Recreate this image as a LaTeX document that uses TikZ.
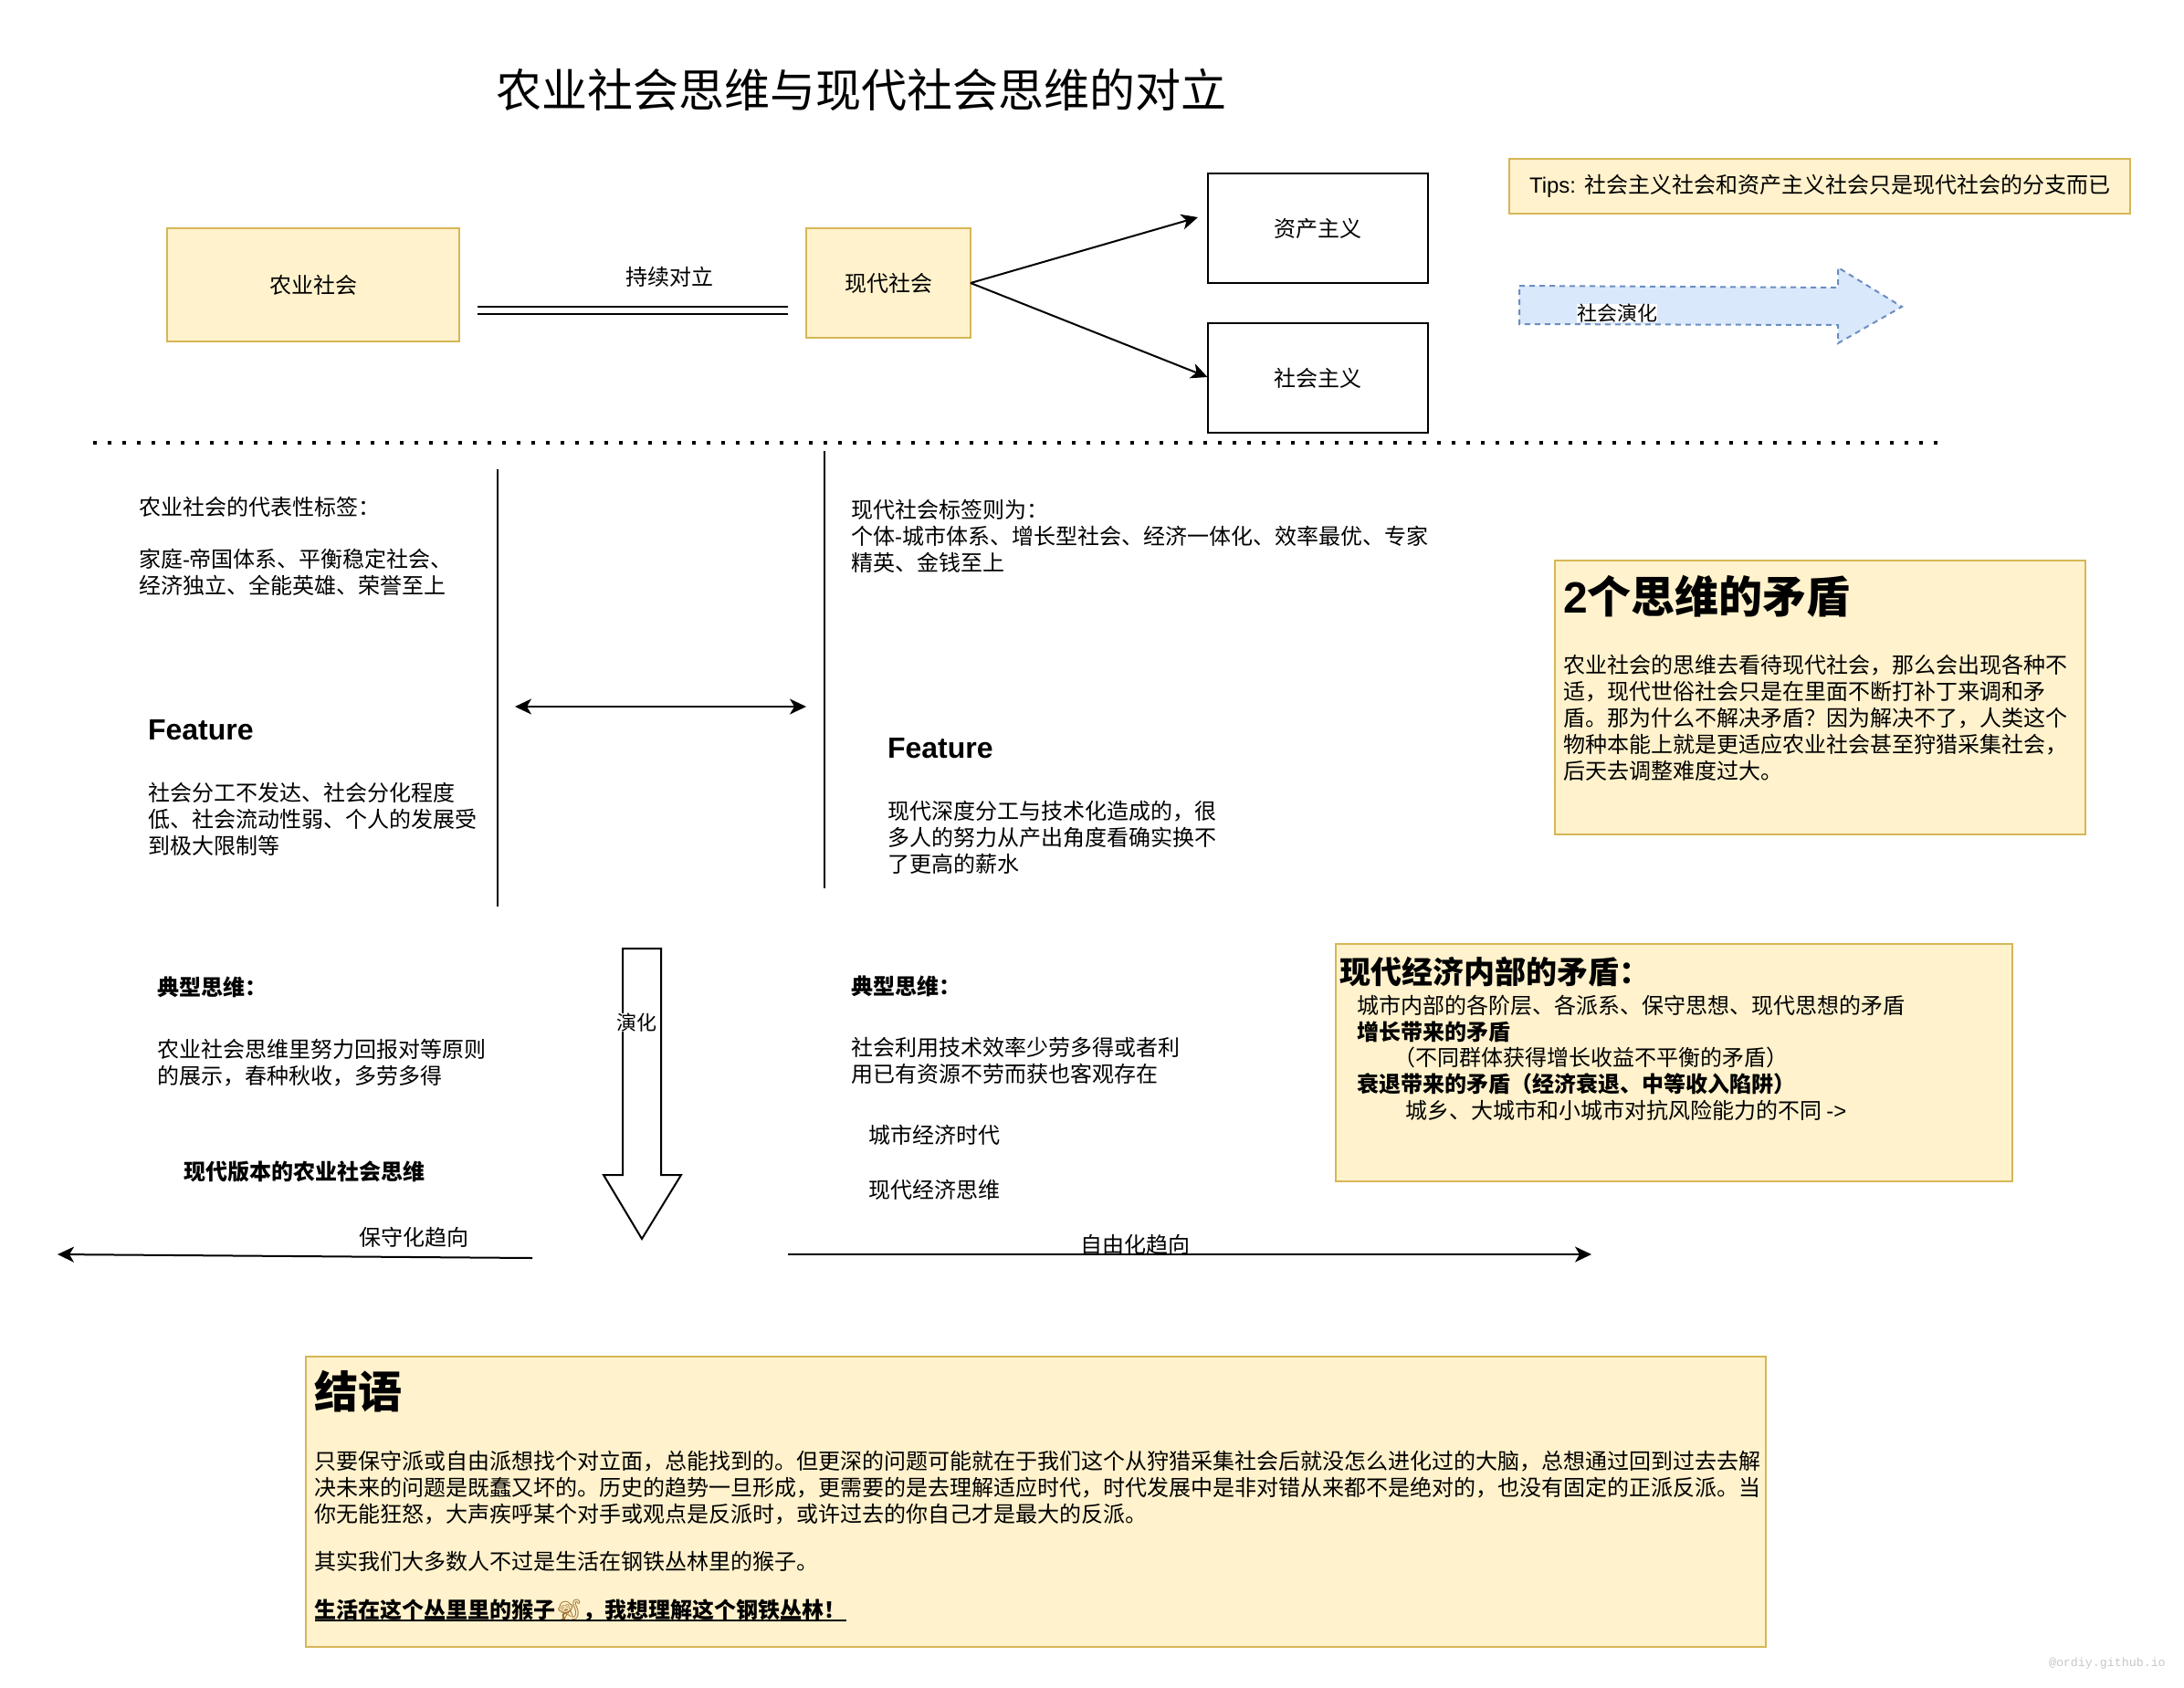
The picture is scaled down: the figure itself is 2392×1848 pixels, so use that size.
\documentclass[tikz,border=0pt]{standalone}
\usepackage{fontspec}
\setmainfont{Noto Sans CJK SC}
\newfontfamily\lat{Liberation Sans}
\newfontfamily\wmfont{Liberation Mono}
\newfontfamily\emo{Noto Emoji}
\usetikzlibrary{arrows.meta}
\definecolor{yfill}{HTML}{FFF2CC}
\definecolor{ydraw}{HTML}{D6B656}
\definecolor{bfill}{HTML}{DAE8FC}
\definecolor{bdraw}{HTML}{6C8EBF}
\definecolor{monkey}{HTML}{A06E2E}
\tikzset{
  x=1pt,y=-1pt,
  ybox/.style={draw=ydraw,fill=yfill,line width=2pt,inner sep=0,outer sep=0,font=\fontsize{24}{29}\selectfont},
  wbox/.style={draw=black,fill=white,line width=2pt,inner sep=0,outer sep=0,font=\fontsize{24}{29}\selectfont},
  txt/.style={anchor=base west,inner sep=0,outer sep=0,font=\fontsize{24}{29}\selectfont},
  ctr/.style={anchor=base,inner sep=0,outer sep=0,font=\fontsize{24}{29}\selectfont},
  btxt/.style={txt,font=\fontsize{24}{29}\selectfont\bfseries},
  edgelab/.style={fill=white,inner sep=0,outer sep=0,font=\fontsize{22}{26}\selectfont},
  ln/.style={line width=2pt,draw=black},
  arr/.style={ln,-{Stealth[length=18pt,width=17pt,inset=5pt]}},
  biarr/.style={ln,{Stealth[length=18pt,width=17pt,inset=5pt]}-{Stealth[length=18pt,width=17pt,inset=5pt]}},
}
\begin{document}
\begin{tikzpicture}
\useasboundingbox (0,0) rectangle (2392,1848);
% title
\node[txt,font=\fontsize{50}{60}\selectfont,anchor=base] (title) at (943.5,117) {农业社会思维与现代社会思维的对立};
% top boxes
\node[ybox,minimum width=320pt,minimum height=124pt] (agri) at (343,312) {农业社会};
\node[ybox,minimum width=180pt,minimum height=120pt] (modern) at (973,310) {现代社会};
\node[wbox,minimum width=241pt,minimum height=120pt] (cap) at (1443,250) {资产主义};
\node[wbox,minimum width=241pt,minimum height=120pt] (soc) at (1443,414) {社会主义};
\node[ybox,minimum width=680pt,minimum height=60pt] (tips) at (1993,203.5) {{\lat Tips: }社会主义社会和资产主义社会只是现代社会的分支而已};
% double line
\coordinate (dla) at (523,336); \coordinate (dlb) at (863,336);
\coordinate (dlc) at (523,344); \coordinate (dld) at (863,344);
\draw[ln] (dla) -- (dlb);
\draw[ln] (dlc) -- (dld);
\node[ctr] (oppose) at (733,312) {持续对立};
% fan arrows
\coordinate (capin) at (1312,238);
\draw[arr] (modern.east) -- (capin);
\draw[arr] (modern.east) -- (soc.west |- 0,413);
% blue arrow
\draw[draw=bdraw,fill=bfill,line width=2pt,dash pattern=on 6pt off 5pt]
  (1664,313) -- (2013,315) -- (2013,293) -- (2083,336) -- (2013,376) -- (2013,356) -- (1664,355) -- cycle;
\node[edgelab] (evo) at (1771,343) {社会演化};
% dotted separator
\coordinate (sepa) at (102,485); \coordinate (sepb) at (2125,485);
\draw[line width=4pt,dash pattern=on 4pt off 12pt] (sepa) -- (sepb);
% vertical lines and double arrow
\coordinate (va) at (545,514); \coordinate (vb) at (545,993);
\coordinate (vc) at (903,494); \coordinate (vd) at (903,973);
\draw[ln] (va) -- (vb);
\draw[ln] (vc) -- (vd);
\coordinate (ha) at (564,774); \coordinate (hb) at (883,774);
\draw[biarr] (ha) -- (hb);
% left tag text
\node[txt] (l1) at (152,564) {农业社会的代表性标签：};
\node[txt] (l2) at (152,621) {家庭{\lat -}帝国体系、平衡稳定社会、};
\node[txt] (l3) at (152,650) {经济独立、全能英雄、荣誉至上};
% right tag text
\node[txt] (r1) at (932,567) {现代社会标签则为：};
\node[txt] (r2) at (932,596) {个体{\lat -}城市体系、增长型社会、经济一体化、效率最优、专家};
\node[txt] (r3) at (932,625) {精英、金钱至上};
% features
\node[txt,font=\fontsize{32}{38}\selectfont\bfseries\lat] (fl) at (162,810) {Feature};
\node[txt] (fl1) at (162,877) {社会分工不发达、社会分化程度};
\node[txt] (fl2) at (162,906) {低、社会流动性弱、个人的发展受};
\node[txt] (fl3) at (162,935) {到极大限制等};
\node[txt,font=\fontsize{32}{38}\selectfont\bfseries\lat] (fr) at (972,830) {Feature};
\node[txt] (fr1) at (972,897) {现代深度分工与技术化造成的，很};
\node[txt] (fr2) at (972,926) {多人的努力从产出角度看确实换不};
\node[txt] (fr3) at (972,955) {了更高的薪水};
% conflict box
\node[ybox,minimum width=581pt,minimum height=300pt] (conf) at (1993,764) {};
\node[txt,font=\fontsize{48}{56}\selectfont\bfseries] (conft) at (1712,671) {{\lat 2}个思维的矛盾};
\node[txt] (c1) at (1712,737) {农业社会的思维去看待现代社会，那么会出现各种不};
\node[txt] (c2) at (1712,766) {适，现代世俗社会只是在里面不断打补丁来调和矛};
\node[txt] (c3) at (1712,795) {盾。那为什么不解决矛盾？因为解决不了，人类这个};
\node[txt] (c4) at (1712,824) {物种本能上就是更适应农业社会甚至狩猎采集社会，};
\node[txt] (c5) at (1712,853) {后天去调整难度过大。};
% down arrow
\draw[ln,line width=2pt,fill=white] (682,1039) -- (724,1039) -- (724,1287) -- (746,1287) -- (703,1357) -- (661,1287) -- (682,1287) -- cycle;
\node[edgelab] (devo) at (697,1120) {演化};
% thinking left
\node[btxt] (tl) at (172,1090) {典型思维：};
\node[txt] (tl1) at (172,1158) {农业社会思维里努力回报对等原则};
\node[txt] (tl2) at (172,1187) {的展示，春种秋收，多劳多得};
\node[btxt] (tl3) at (201,1292) {现代版本的农业社会思维};
% thinking right
\node[btxt] (tr) at (932,1089) {典型思维：};
\node[txt] (tr1) at (932,1156) {社会利用技术效率少劳多得或者利};
\node[txt] (tr2) at (932,1185) {用已有资源不劳而获也客观存在};
\node[txt] (tr3) at (951,1252) {城市经济时代};
\node[txt] (tr4) at (951,1312) {现代经济思维};
% trend arrows
\coordinate (cona) at (583,1378); \coordinate (conb) at (63,1374);
\draw[arr] (cona) -- (conb);
\node[ctr] (conl) at (453,1364) {保守化趋向};
\coordinate (liba) at (863,1374); \coordinate (libb) at (1743,1374);
\draw[arr] (liba) -- (libb);
\node[ctr] (libl) at (1243,1372) {自由化趋向};
% economy box
\node[ybox,minimum width=741pt,minimum height=260pt] (econ) at (1833.5,1164) {};
\node[txt,font=\fontsize{34}{40}\selectfont\bfseries] (econt) at (1467,1077) {现代经济内部的矛盾：};
\node[txt] (e1) at (1486,1110) {城市内部的各阶层、各派系、保守思想、现代思想的矛盾};
\node[btxt] (e2) at (1486,1139) {增长带来的矛盾};
\node[txt] (e3) at (1526,1167) {（不同群体获得增长收益不平衡的矛盾）};
\node[btxt] (e4) at (1486,1196) {衰退带来的矛盾（经济衰退、中等收入陷阱）};
\node[txt] (e5) at (1539,1225) {城乡、大城市和小城市对抗风险能力的不同 {\lat ->}};
% conclusion box
\node[ybox,minimum width=1599pt,minimum height=318pt] (end) at (1134.5,1645) {};
\node[txt,font=\fontsize{48}{56}\selectfont\bfseries] (endt) at (344,1542) {结语};
\node[txt] (x1) at (344,1609) {只要保守派或自由派想找个对立面，总能找到的。但更深的问题可能就在于我们这个从狩猎采集社会后就没怎么进化过的大脑，总想通过回到过去去解};
\node[txt] (x2) at (344,1638) {决未来的问题是既蠢又坏的。历史的趋势一旦形成，更需要的是去理解适应时代，时代发展中是非对错从来都不是绝对的，也没有固定的正派反派。当};
\node[txt] (x3) at (344,1667) {你无能狂怒，大声疾呼某个对手或观点是反派时，或许过去的你自己才是最大的反派。};
\node[txt] (x4) at (344,1719) {其实我们大多数人不过是生活在钢铁丛林里的猴子。};
\node[btxt] (x5) at (344,1772) {生活在这个丛里里的猴子{\mdseries\emo\color{monkey}\char"1F412}，我想理解这个钢铁丛林！};
\coordinate (ula) at (345,1775); \coordinate (ulb) at (927,1775);
\draw[ln] (ula) -- (ulb);
% watermark
\node[txt,font=\fontsize{13.3}{16}\selectfont\wmfont,text=black!22] (wm) at (2244,1825) {@ordiy.github.io};
\end{tikzpicture}
\end{document}
